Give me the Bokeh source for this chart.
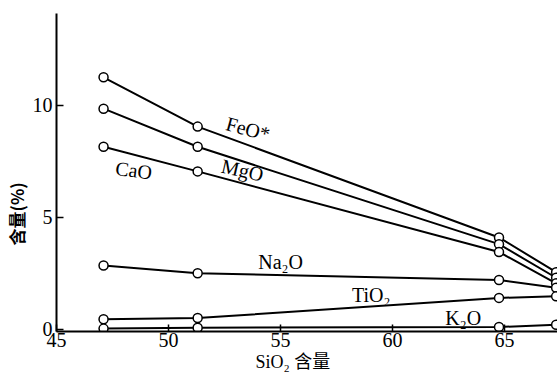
import math
from bokeh.plotting import figure
from bokeh.models import Range1d, FixedTicker, Label, Title
from bokeh.core.properties import value
from bokeh.embed import file_html
from bokeh.resources import INLINE

# SiO2 content (x) at the four samples
sio2 = [47.1, 51.3, 64.75, 67.3]

feo = [11.25, 9.05, 4.1, 2.55]
mgo = [9.85, 8.15, 3.8, 2.3]
cao = [8.15, 7.05, 3.45, 2.05]
na2o = [2.85, 2.5, 2.2, 1.85]
tio2 = [0.45, 0.5, 1.4, 1.47]
k2o = [0.03, 0.07, 0.1, 0.2]

series = [feo, mgo, cao, na2o, tio2, k2o]

# series labels: (text, x, y, angle in degrees)
labels = [
    ("FeO*", 53.55, 8.95, -15),
    ("MgO", 53.3, 7.1, -13),
    ("CaO", 48.45, 7.1, -7),
    ("Na₂O", 55.0, 3.0, 0),
    ("TiO₂", 59.05, 1.55, 0),
    ("K₂O", 63.15, 0.5, 0),
]

x_ticks = [45, 50, 55, 60, 65]
y_ticks = [0, 5, 10]

SERIF = "Liberation Serif, Noto Sans CJK SC"

p = figure(
    width=557, height=378,
    frame_width=503, frame_height=318,
    x_range=Range1d(45, 67.45), y_range=Range1d(-0.1, 14.1),
    output_backend="svg", toolbar_location=None,
    min_border_left=54, min_border_right=0, min_border_top=13, min_border_bottom=47,
)
p.outline_line_color = None
p.xgrid.visible = False
p.ygrid.visible = False

for ax in (p.xaxis[0], p.yaxis[0]):
    ax.axis_line_width = 2
    ax.axis_line_color = "black"
    ax.major_tick_in = 7
    ax.major_tick_out = 0
    ax.major_tick_line_width = 1.5
    ax.minor_tick_line_color = None
    ax.major_label_text_font = SERIF
    ax.major_label_text_font_size = "20px"
    ax.major_label_text_color = "black"

p.xaxis[0].ticker = FixedTicker(ticks=x_ticks)
p.xaxis[0].major_label_standoff = 1
p.yaxis[0].ticker = FixedTicker(ticks=y_ticks)
p.yaxis[0].major_label_standoff = 4

for ys in series:
    p.line(sio2, ys, line_color="black", line_width=2)
    p.scatter(sio2, ys, size=9, marker="circle", fill_color="white",
              line_color="black", line_width=1.5)

for text, x, y, ang in labels:
    p.add_layout(Label(x=x, y=y, text=text, angle=math.radians(ang),
                       text_align="center", text_baseline="middle",
                       text_font=SERIF, text_font_size="20px",
                       text_color="black"))

# axis titles
p.add_layout(Title(text="含量(%)", align="left", offset=86, standoff=2,
                   text_font="Noto Sans CJK SC", text_font_size="17px",
                   text_font_style="bold", text_color="black"), "left")
p.add_layout(Title(text="SiO₂ 含量", align="left", offset=199, standoff=0,
                   text_font=SERIF, text_font_size="18px",
                   text_font_style="normal", text_color="black"), "below")

open("out.html", "w").write(file_html(p, INLINE))
